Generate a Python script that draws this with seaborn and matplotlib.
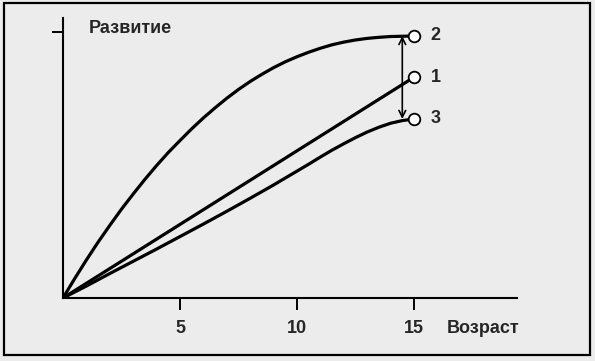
import pandas as pd
import matplotlib.pyplot as plt
import seaborn as sns
from matplotlib.patches import Rectangle

# Curves (age in years, development in relative units)
age_1 = [0, 15]
dev_1 = [0, 0.83]

age_2 = [0, 0.5, 1, 1.5, 2, 2.5, 3, 3.5, 4, 4.5, 5, 5.5, 6, 6.5, 7, 7.5, 8,
         8.5, 9, 9.5, 10, 10.5, 11, 11.5, 12, 12.5, 13, 13.5, 14, 14.5, 15]
dev_2 = [0, 0.073, 0.143, 0.21, 0.273, 0.334, 0.391, 0.446, 0.498, 0.547,
         0.592, 0.636, 0.677, 0.715, 0.751, 0.784, 0.814, 0.841, 0.866, 0.888,
         0.907, 0.924, 0.939, 0.952, 0.962, 0.97, 0.976, 0.98, 0.983, 0.984, 0.985]

age_3 = [0, 1, 2, 3, 4, 5, 6, 7, 8, 9, 10, 10.5, 11, 11.5, 12, 12.5, 13, 13.5,
         14, 14.5, 15]
dev_3 = [0, 0.045, 0.092, 0.138, 0.184, 0.231, 0.278, 0.326, 0.375, 0.425,
         0.477, 0.503, 0.53, 0.556, 0.58, 0.603, 0.624, 0.642, 0.657, 0.667, 0.673]

curve_names = ["1", "2", "3"]
x_ticks = [5, 10, 15]
y_ticks = [1.0]
x_title = "Возраст"
y_title = "Развитие"

df = pd.concat([
    pd.DataFrame({"curve": name, "age": a, "dev": d})
    for name, a, d in zip(curve_names, [age_1, age_2, age_3], [dev_1, dev_2, dev_3])
])
ends = df.groupby("curve").tail(1)

sns.set_theme(style="ticks")
plt.rcParams["font.family"] = ["Liberation Sans", "DejaVu Sans"]

bg = "#ececec"
fig = plt.figure(figsize=(5.95, 3.61), dpi=100, facecolor=bg)
ax = fig.add_axes([63 / 595, 63 / 361, 454 / 595, 280 / 361])
ax.set_facecolor("none")

sns.lineplot(data=df, x="age", y="dev", units="curve", estimator=None, sort=False,
             color="black", linewidth=2.3, legend=False, ax=ax)
sns.scatterplot(data=ends, x="age", y="dev", s=70, color="white", edgecolor="black",
                linewidth=1.3, zorder=5, legend=False, ax=ax, clip_on=False)

for _, row in ends.iterrows():
    ax.text(row["age"] + 0.7, row["dev"], row["curve"], ha="left", va="center",
            fontsize=13, fontweight="bold")

# double arrow between the upper and lower curve
top = ends.loc[ends["curve"] == "2", "dev"].iloc[0]
bottom = ends.loc[ends["curve"] == "3", "dev"].iloc[0]
ax.annotate("", xy=(14.5, top), xytext=(14.5, bottom),
            arrowprops=dict(arrowstyle="<->", lw=1.2, color="black",
                            shrinkA=0, shrinkB=0, mutation_scale=12))

ax.set_xlim(0, 454 / 23.4)
ax.set_ylim(0, 280 / 266)
ax.set_xticks(x_ticks)
ax.set_xticklabels([str(t) for t in x_ticks], fontsize=13, fontweight="bold")
ax.set_yticks(y_ticks)
ax.set_yticklabels([""])
ax.set_xlabel("")
ax.set_ylabel("")
ax.tick_params(axis="x", length=8.5, width=1.4, pad=7, color="black")
ax.tick_params(axis="y", length=8, width=1.4, color="black")
sns.despine(ax=ax)
for side in ["left", "bottom"]:
    ax.spines[side].set_linewidth(1.5)
    ax.spines[side].set_color("black")

ax.text(1.1, 1.012, y_title, ha="left", va="center", fontsize=13, fontweight="bold")
ax.text(16.4, -0.113, x_title, ha="left", va="center", fontsize=13,
        fontweight="bold", clip_on=False)

# frame around the whole picture
fig.patches.append(Rectangle((4 / 595, 6 / 361), 586 / 595, 352 / 361,
                             transform=fig.transFigure, fill=False,
                             edgecolor="black", linewidth=1.6))

fig.savefig("out.png", dpi=100, facecolor=bg)
